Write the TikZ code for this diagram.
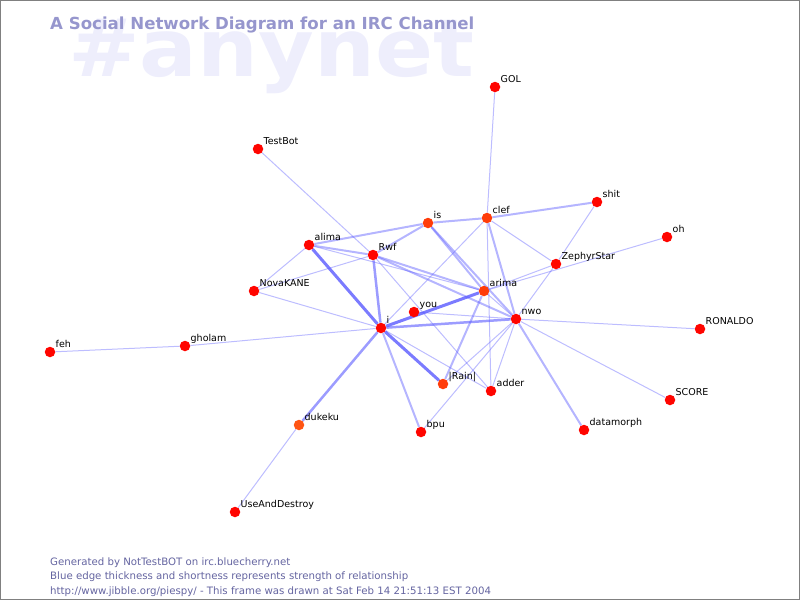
\documentclass[tikz,border=0pt]{standalone}
\usepackage{fontspec}
\setmainfont{DejaVu Sans}
\usetikzlibrary{backgrounds}

\definecolor{nickred}{RGB}{255,5,0}
\definecolor{nickorange}{RGB}{255,60,10}
\definecolor{nickamber}{RGB}{255,85,20}
\definecolor{tieblue}{RGB}{90,90,255}
\definecolor{titleblue}{RGB}{150,150,205}
\definecolor{markblue}{RGB}{238,238,252}
\definecolor{footblue}{RGB}{100,100,160}

\begin{document}
\begin{tikzpicture}[x=1pt, y=-1pt,
  user/.style={circle, fill=nickred, inner sep=0pt, minimum size=10.5pt},
  nick/.style={anchor=base west, inner sep=0pt, xshift=5.5pt, yshift=4.5pt,
    font=\fontsize{9.5}{11}\selectfont},
  tieweak/.style={draw=tieblue, line width=1pt, opacity=0.4},
  tiemid/.style={draw=tieblue, line width=2pt, opacity=0.45},
  tiefirm/.style={draw=tieblue, line width=2.5pt, opacity=0.6},
  tiestrong/.style={draw=tieblue, line width=3pt, opacity=0.8},
  foot/.style={anchor=base west, inner sep=0pt, text=footblue,
    font=\fontsize{10.2}{12}\selectfont}]
\useasboundingbox (0,0) rectangle (800,600);

%users
\foreach \n/\x/\y/\t/\c in {GOL/495/87/GOL/nickred, TestBot/258/149/TestBot/nickred,
    shit/597/202/shit/nickred, clef/487/218/clef/nickorange, is/428/223/is/nickorange,
    oh/667/237/oh/nickred, alima/309/245/alima/nickred, Rwf/373/255/Rwf/nickred,
    Zephyr/556/264/ZephyrStar/nickred, Nova/254/291/NovaKANE/nickred,
    arima/484/291/arima/nickorange, you/414/312/you/nickred, nwo/516/319/nwo/nickred,
    Ronaldo/700/329/RONALDO/nickred, i/381/328/i/nickred, gholam/185/346/gholam/nickred,
    feh/50/352/feh/nickred, Rain/443/384/|Rain|/nickorange, adder/491/391/adder/nickred,
    Score/670/400/SCORE/nickred, dukeku/299/425/dukeku/nickamber, bpu/421/432/bpu/nickred,
    datamorph/584/430/datamorph/nickred, UseAnd/235/512/UseAndDestroy/nickred} {
  \node[user, fill=\c] (\n) at (\x, \y) {};
  \node[nick] (\n-nick) at (\n.center) {\t};
}

%ties
\begin{scope}[on background layer]
  \node[anchor=base west, inner sep=0pt, text=markblue] (mark) at (68, 76)
    {\scalebox{1.07}[1]{\fontsize{80}{80}\selectfont\bfseries\#anynet}};
  \foreach \a/\b in {GOL/clef, TestBot/Rwf, shit/Zephyr, oh/arima, Zephyr/arima,
      Zephyr/clef, Zephyr/nwo, Nova/alima, Nova/Rwf, Nova/i, gholam/feh, gholam/i,
      dukeku/UseAnd, nwo/Score, nwo/Ronaldo, nwo/Rain, nwo/adder, nwo/bpu, i/adder,
      clef/i, clef/adder, you/nwo, alima/arima, Rwf/adder, arima/nwo}
    \draw[tieweak] (\a) -- (\b);
  \foreach \a/\b in {shit/clef, clef/is, clef/nwo, is/alima, is/Rwf, is/nwo,
      alima/Rwf, Rwf/arima, Rwf/nwo, i/bpu, nwo/datamorph, arima/Rain, is/arima}
    \draw[tiemid] (\a) -- (\b);
  \foreach \a/\b in {i/dukeku, i/nwo, Rwf/i}
    \draw[tiefirm] (\a) -- (\b);
  \foreach \a/\b in {alima/i, i/Rain, i/arima}
    \draw[tiestrong] (\a) -- (\b);
\end{scope}

%title and footer
\node[anchor=base west, inner sep=0pt, text=titleblue,
  font=\fontsize{16.6}{20}\selectfont\bfseries] (title) at (50, 29.3)
  {A Social Network Diagram for an IRC Channel};
\node[foot] (gen) at (50, 565.5) {Generated by NotTestBOT on irc.bluecherry.net};
\node[foot] (key) at (50, 579.5) {Blue edge thickness and shortness represents strength of relationship};
\node[foot] (url) at (50, 594) {http://www.jibble.org/piespy/ - This frame was drawn at Sat Feb 14 21:51:13 EST 2004};

\draw[gray, line width=1pt] (0.5, 0.5) rectangle (799.5, 599.5);
\end{tikzpicture}
\end{document}
